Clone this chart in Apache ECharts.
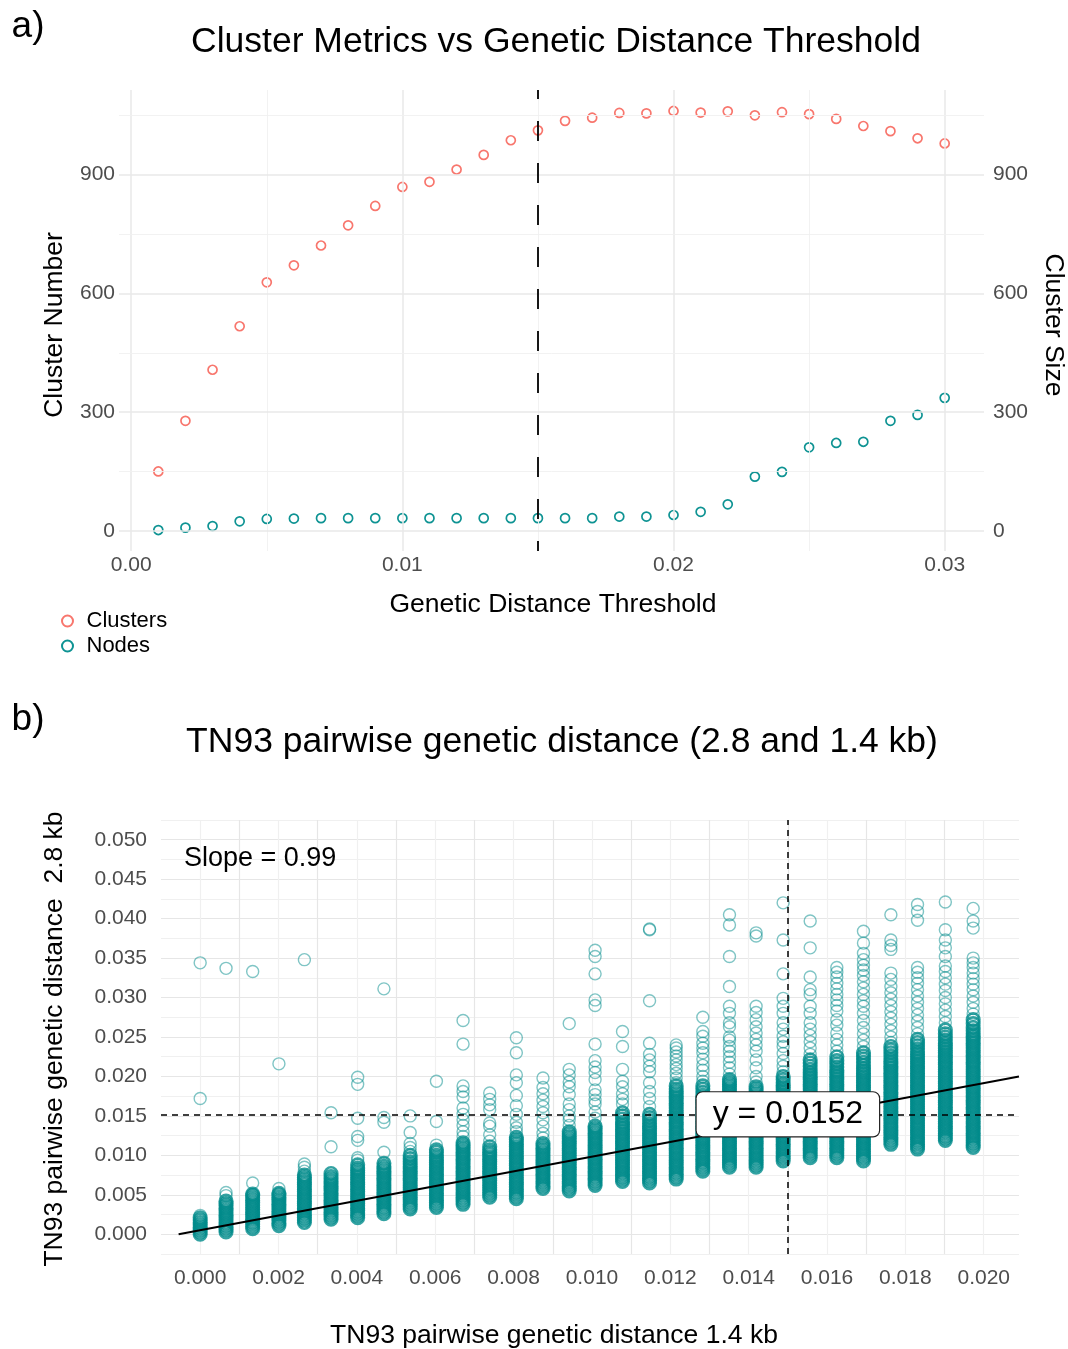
<!DOCTYPE html>
<html>
<head>
<meta charset="utf-8">
<script src="https://cdn.jsdelivr.net/npm/echarts@6/dist/echarts.min.js"></script>
<style>
  html, body { margin: 0; padding: 0; background: #fff; }
  #main { width: 1068px; height: 1349px; }
</style>
</head>
<body>
<div id="main"></div>
<script>
// panel a: cluster metrics by threshold
var thresholds = [0.001, 0.002, 0.003, 0.004, 0.005, 0.006, 0.007, 0.008, 0.009, 0.010,
                  0.011, 0.012, 0.013, 0.014, 0.015, 0.016, 0.017, 0.018, 0.019, 0.020,
                  0.021, 0.022, 0.023, 0.024, 0.025, 0.026, 0.027, 0.028, 0.029, 0.030];
var clusters = [150, 278, 407, 517, 628, 671, 721, 772, 821, 869,
                882, 913, 950, 987, 1012, 1036, 1044, 1056, 1055, 1061,
                1057, 1060, 1050, 1058, 1053, 1041, 1023, 1010, 992, 979];
var nodes = [2, 8, 12, 24, 30, 31, 32, 32, 32, 32,
             32, 32, 32, 32, 32, 32, 32, 36, 36, 40,
             48, 67, 137, 149, 211, 222, 225, 278, 293, 336];
var cutoffA = 0.015;

// panel b: pairwise distances, one column per 1.4 kb distance value
var pairX = [0, 0.00066, 0.00134, 0.00201, 0.00266, 0.00334, 0.00402, 0.00469, 0.00536, 0.00603,
             0.00671, 0.00739, 0.00807, 0.00875, 0.00942, 0.01008, 0.01078, 0.01147, 0.01215, 0.01283,
             0.01351, 0.01419, 0.01488, 0.01557, 0.01625, 0.01693, 0.01763, 0.01831, 0.01902, 0.01973];
// 2.8 kb distances in units of 1e-4: scattered pairs of each column
var pairSparse_e4 = [
  [344, 172, 24],
  [337, 53, 49],
  [333, 65],
  [216, 58],
  [348, 89, 85, 80],
  [154, 111],
  [199, 190, 147, 124, 119, 97, 94],
  [311, 148, 142, 104],
  [150, 129, 115, 110, 105],
  [194, 143, 113],
  [271, 241, 188, 181, 174, 160, 152, 145, 138, 130, 124],
  [179, 171, 164, 158, 141, 137, 126, 118],
  [249, 230, 202, 192, 176, 163, 152, 142, 135, 130],
  [198, 186, 178, 170, 162, 154, 145, 137, 128, 122],
  [267, 209, 202, 193, 187, 177, 165, 158, 150, 145, 138],
  [360, 352, 330, 297, 290, 241, 220, 212, 205, 196, 183, 177, 170, 165, 155, 147],
  [257, 238, 209, 194, 187, 178, 171, 165],
  [387, 386, 296, 242, 228, 221, 213, 206, 192, 181, 172, 162],
  [240, 236, 231, 226, 221, 215, 210, 204, 198, 192],
  [275, 257, 251, 242, 236, 230, 222, 214, 208, 200, 194],
  [405, 392, 352, 314, 289, 280, 268, 263, 250, 246, 238, 232, 225, 218, 211, 203],
  [382, 378, 289, 281, 272, 263, 255, 247, 240, 232, 221, 211, 200, 193],
  [420, 373, 330, 299, 289, 280, 268, 260, 251, 244, 238, 229, 220, 213, 206],
  [397, 363, 326, 310, 304, 289, 280, 268, 260, 252, 244, 236, 228],
  [338, 332, 326, 318, 311, 304, 297, 290, 283, 272, 265, 255, 247, 240, 232],
  [384, 369, 356, 348, 341, 335, 328, 320, 312, 304, 296, 289, 280, 271, 262, 254, 246, 238],
  [405, 373, 366, 361, 331, 323, 314, 306, 298, 290, 282, 274, 266, 258, 250, 243],
  [418, 409, 398, 338, 332, 325, 318, 310, 302, 294, 286, 278, 270, 262, 254],
  [421, 386, 373, 363, 352, 340, 333, 325, 317, 309, 300, 292, 284, 276, 268],
  [413, 397, 388, 350, 344, 338, 331, 324, 317, 310, 302, 294, 286, 279]
];
// 2.8 kb distances in units of 1e-4: crowded core of each column
var pairDense_e4 = [
  [0, 3, 6, 9, 12, 15, 18, 21],
  [3, 6, 9, 12, 15, 18, 21, 24, 27, 30, 33, 36, 39, 42],
  [7, 10, 13, 16, 19, 22, 25, 28, 31, 34, 37, 40, 43, 46, 49, 51],
  [11, 14, 17, 20, 23, 26, 29, 32, 35, 38, 41, 44, 47, 50, 52],
  [15, 18, 21, 24, 27, 30, 33, 36, 39, 42, 45, 48, 51, 54, 57, 60, 63, 66, 69, 72, 75],
  [19, 22, 25, 28, 31, 34, 37, 40, 43, 46, 49, 52, 55, 58, 61, 64, 67, 70, 73, 77],
  [21, 24, 27, 30, 33, 36, 39, 42, 45, 48, 51, 54, 57, 60, 63, 66, 69, 72, 75, 78, 81, 84, 88],
  [26, 29, 32, 35, 38, 41, 44, 47, 50, 53, 56, 59, 62, 65, 68, 71, 74, 77, 80, 83, 86, 90],
  [32, 35, 38, 41, 44, 47, 50, 53, 56, 59, 62, 65, 68, 71, 74, 77, 80, 83, 86, 89, 92, 96, 100],
  [34, 37, 40, 43, 46, 49, 52, 55, 58, 61, 64, 67, 70, 73, 76, 79, 82, 85, 88, 91, 94, 97, 100, 104, 107],
  [38, 41, 44, 47, 50, 53, 56, 59, 62, 65, 68, 71, 74, 77, 80, 83, 86, 89, 92, 95, 98, 101, 104, 107, 110, 113, 116],
  [47, 50, 53, 56, 59, 62, 65, 68, 71, 74, 77, 80, 83, 86, 89, 92, 95, 98, 101, 104, 107, 111],
  [45, 48, 51, 54, 57, 60, 63, 66, 69, 72, 75, 78, 81, 84, 87, 90, 93, 96, 99, 102, 105, 108, 111, 114, 117, 120, 123],
  [58, 61, 64, 67, 70, 73, 76, 79, 82, 85, 88, 91, 94, 97, 100, 103, 106, 109, 112, 115],
  [55, 58, 61, 64, 67, 70, 73, 76, 79, 82, 85, 88, 91, 94, 97, 100, 103, 106, 109, 112, 115, 118, 121, 124, 127, 130],
  [62, 65, 68, 71, 74, 77, 80, 83, 86, 89, 92, 95, 98, 101, 104, 107, 110, 113, 116, 119, 122, 125, 128, 131, 134, 137],
  [67, 70, 73, 76, 79, 82, 85, 88, 91, 94, 97, 100, 103, 106, 109, 112, 115, 118, 121, 124, 127, 130, 133, 136, 139, 142, 146, 150, 154],
  [65, 68, 71, 74, 77, 80, 83, 86, 89, 92, 95, 98, 101, 104, 107, 110, 113, 116, 119, 122, 125, 128, 131, 134, 137, 140, 144, 148, 152],
  [70, 73, 76, 79, 82, 85, 88, 91, 94, 97, 100, 103, 106, 109, 112, 115, 118, 121, 124, 127, 130, 133, 136, 139, 142, 145, 148, 151, 154, 157, 160, 163, 166, 169, 172, 175, 178, 181, 184, 188],
  [80, 83, 86, 89, 92, 95, 98, 101, 104, 107, 110, 113, 116, 119, 122, 125, 128, 131, 134, 137, 140, 143, 146, 149, 152, 155, 158, 161, 164, 167, 170, 173, 176, 180, 184, 188],
  [85, 88, 91, 94, 97, 100, 103, 106, 109, 112, 115, 118, 121, 124, 127, 130, 133, 136, 139, 142, 145, 148, 151, 154, 157, 160, 163, 166, 169, 172, 175, 178, 181, 184, 187, 190, 193, 196],
  [85, 88, 91, 94, 97, 100, 103, 106, 109, 112, 115, 118, 121, 124, 127, 130, 133, 136, 139, 142, 145, 148, 151, 154, 157, 160, 163, 166, 169, 172, 175, 178, 181, 184, 187],
  [93, 96, 99, 102, 105, 108, 111, 114, 117, 120, 123, 126, 129, 132, 135, 138, 141, 144, 147, 150, 153, 156, 159, 162, 165, 168, 171, 174, 177, 180, 183, 186, 189, 192, 196, 200],
  [97, 100, 103, 106, 109, 112, 115, 118, 121, 124, 127, 130, 133, 136, 139, 142, 145, 148, 151, 154, 157, 160, 163, 166, 169, 172, 175, 178, 181, 184, 187, 190, 193, 196, 199, 202, 205, 209, 213, 217, 221],
  [97, 100, 103, 106, 109, 112, 115, 118, 121, 124, 127, 130, 133, 136, 139, 142, 145, 148, 151, 154, 157, 160, 163, 166, 169, 172, 175, 178, 181, 184, 187, 190, 193, 196, 199, 202, 205, 208, 212, 216, 220, 225],
  [93, 96, 99, 102, 105, 108, 111, 114, 117, 120, 123, 126, 129, 132, 135, 138, 141, 144, 147, 150, 153, 156, 159, 162, 165, 168, 171, 174, 177, 180, 183, 186, 189, 192, 195, 198, 201, 204, 207, 210, 214, 218, 222, 226, 230],
  [114, 117, 120, 123, 126, 129, 132, 135, 138, 141, 144, 147, 150, 153, 156, 159, 162, 165, 168, 171, 174, 177, 180, 183, 186, 189, 192, 195, 198, 201, 204, 207, 210, 213, 216, 219, 222, 226, 230, 234, 238],
  [108, 111, 114, 117, 120, 123, 126, 129, 132, 135, 138, 141, 144, 147, 150, 153, 156, 159, 162, 165, 168, 171, 174, 177, 180, 183, 186, 189, 192, 195, 198, 201, 204, 207, 210, 213, 216, 219, 222, 225, 228, 231, 235, 239, 243, 247],
  [119, 122, 125, 128, 131, 134, 137, 140, 143, 146, 149, 152, 155, 158, 161, 164, 167, 170, 173, 176, 179, 182, 185, 188, 191, 194, 197, 200, 203, 206, 209, 212, 215, 218, 221, 224, 227, 230, 233, 236, 239, 242, 246, 250, 254, 259],
  [110, 113, 116, 119, 122, 125, 128, 131, 134, 137, 140, 143, 146, 149, 152, 155, 158, 161, 164, 167, 170, 173, 176, 179, 182, 185, 188, 191, 194, 197, 200, 203, 206, 209, 212, 215, 218, 221, 224, 227, 230, 233, 236, 239, 242, 245, 248, 251, 254, 258, 262, 267, 272]
];
var fitX = [-0.00055, 0.0209];
var fitY = [0.0000, 0.0200];
var cutoffX = 0.015;
var cutoffY = 0.0152;
var slopeText = 'Slope = 0.99';

(function () {
    var FONT = 'Liberation Sans';
    var myChart = echarts.init(document.getElementById('main'));

    var clusterData = thresholds.map(function (t, i) { return [t, clusters[i]]; });
    var nodeData = thresholds.map(function (t, i) { return [t, nodes[i]]; });
    function toPoints(cols) {
        var out = [];
        pairX.forEach(function (x, i) {
            cols[i].forEach(function (v) { out.push([x, v / 10000]); });
        });
        return out;
    }
    var sparseData = toPoints(pairSparse_e4);
    var denseData = toPoints(pairDense_e4);
    var fitData = fitX.map(function (x, i) { return [x, fitY[i]]; });

    // grid lines of panel a (ggplot minimal look)
    var MAJOR = { color: '#e8e8e8', width: 1.5, type: 'solid' };
    var MINOR = { color: '#f0f0f0', width: 0.9, type: 'solid' };
    var gridA = [];
    [0, 0.01, 0.02, 0.03].forEach(function (v) { gridA.push({ xAxis: v, lineStyle: MAJOR }); });
    [0.005, 0.015, 0.025].forEach(function (v) { gridA.push({ xAxis: v, lineStyle: MINOR }); });
    [0, 300, 600, 900].forEach(function (v) { gridA.push({ yAxis: v, lineStyle: MAJOR }); });
    [150, 450, 750, 1050].forEach(function (v) { gridA.push({ yAxis: v, lineStyle: MINOR }); });

    function txt(x, y, text, size, rot, align) {
        return {
            type: 'text', x: x, y: y, rotation: rot || 0, z: 10,
            style: { text: text, fontSize: size, fontFamily: FONT, fill: '#000',
                     align: align || 'center', verticalAlign: 'middle' }
        };
    }

    var tickLabel = { color: '#4d4d4d', fontSize: 21, fontFamily: FONT };

    var option = {
        animation: false,
        graphic: [
            txt(28, 27, 'a)', 37),
            txt(556, 42, 'Cluster Metrics vs Genetic Distance Threshold', 35.5),
            txt(55, 325, 'Cluster Number', 26.5, Math.PI / 2),
            txt(1053, 325, 'Cluster Size', 26.5, -Math.PI / 2),
            txt(553, 605, 'Genetic Distance Threshold', 26.5),
            txt(28, 720, 'b)', 37),
            txt(562, 742, 'TN93 pairwise genetic distance (2.8 and 1.4 kb)', 35.5),
            txt(55, 1039, 'TN93 pairwise genetic distance  2.8 kb', 26.5, Math.PI / 2),
            txt(554, 1336, 'TN93 pairwise genetic distance 1.4 kb', 26.5),
            txt(184, 859, slopeText, 27, 0, 'left')
        ],
        legend: {
            data: ['Clusters', 'Nodes'],
            orient: 'vertical',
            left: 56, top: 605,
            itemWidth: 28, itemHeight: 11, itemGap: 3,
            textStyle: { fontSize: 22, fontFamily: FONT, color: '#000' }
        },
        grid: [
            { left: 119, top: 90, width: 865, height: 461 },
            { left: 161, top: 820, width: 858, height: 434 }
        ],
        xAxis: [
            {
                gridIndex: 0, type: 'value', min: -0.00045, max: 0.03145,
                axisLine: { show: false }, axisTick: { show: false }, splitLine: { show: false },
                axisLabel: Object.assign({ customValues: [0, 0.01, 0.02, 0.03], margin: 4,
                    formatter: function (v) { return v.toFixed(2); } }, tickLabel)
            },
            {
                gridIndex: 1, type: 'value', min: -0.001, max: 0.0209, interval: 0.001,
                axisLine: { show: false }, axisTick: { show: false },
                splitLine: { showMinLine: false, showMaxLine: false,
                             lineStyle: { color: ['#f0f0f0', '#e6e6e6'], width: 1.2 } },
                axisLabel: Object.assign({ margin: 14, formatter: function (v) {
                    var k = Math.round(v / 0.002);
                    return (Math.abs(v - k * 0.002) < 1e-9 && k >= 0 && k <= 10) ? (k * 0.002).toFixed(3) : '';
                } }, tickLabel)
            }
        ],
        yAxis: [
            {
                gridIndex: 0, type: 'value', min: -51, max: 1114,
                axisLine: { show: false }, axisTick: { show: false }, splitLine: { show: false },
                axisLabel: Object.assign({ customValues: [0, 300, 600, 900], margin: 4 }, tickLabel)
            },
            {
                gridIndex: 0, type: 'value', min: -51, max: 1114, position: 'right',
                axisLine: { show: false }, axisTick: { show: false }, splitLine: { show: false },
                axisLabel: Object.assign({ customValues: [0, 300, 600, 900], margin: 9 }, tickLabel)
            },
            {
                gridIndex: 1, type: 'value', min: -0.0025, max: 0.0525, interval: 0.0025,
                axisLine: { show: false }, axisTick: { show: false },
                splitLine: { lineStyle: { color: ['#f0f0f0', '#e6e6e6'], width: 1.2 } },
                axisLabel: Object.assign({ margin: 14, formatter: function (v) {
                    var k = Math.round(v / 0.005);
                    return (Math.abs(v - k * 0.005) < 1e-9 && k >= 0 && k <= 10) ? (k * 0.005).toFixed(3) : '';
                } }, tickLabel)
            }
        ],
        series: [
            {
                name: 'gridA', type: 'scatter', xAxisIndex: 0, yAxisIndex: 0, data: [], z: 1, silent: true,
                markLine: { silent: true, symbol: 'none', precision: 6, label: { show: false },
                            animation: false, data: gridA }
            },
            {
                name: 'Clusters', type: 'scatter', xAxisIndex: 0, yAxisIndex: 0, z: 3,
                symbol: 'circle', symbolSize: 9, data: clusterData,
                itemStyle: { color: 'rgba(255,255,255,0)', borderColor: '#F8766D', borderWidth: 1.7, opacity: 1 }
            },
            {
                name: 'Nodes', type: 'scatter', xAxisIndex: 0, yAxisIndex: 0, z: 3,
                symbol: 'circle', symbolSize: 9, data: nodeData,
                itemStyle: { color: 'rgba(255,255,255,0)', borderColor: '#0E9393', borderWidth: 1.7, opacity: 1 }
            },
            {
                name: 'cutA', type: 'scatter', xAxisIndex: 0, yAxisIndex: 0, data: [], z: 5, silent: true,
                markLine: { silent: true, symbol: 'none', precision: 6, label: { show: false }, animation: false,
                    lineStyle: { color: '#000', width: 1.8, type: [20, 22], dashOffset: 10 },
                    data: [{ xAxis: cutoffA }] }
            },
            {
                name: 'pairsSparse', type: 'scatter', xAxisIndex: 1, yAxisIndex: 2, z: 2,
                large: false, progressive: 0, symbol: 'circle', symbolSize: 12, data: sparseData,
                itemStyle: { color: 'rgba(0,0,0,0)', borderColor: 'rgba(0,139,139,0.5)', borderWidth: 1.4, opacity: 1 }
            },
            {
                name: 'pairsDense', type: 'scatter', xAxisIndex: 1, yAxisIndex: 2, z: 2,
                large: false, progressive: 0, symbol: 'circle', symbolSize: 12.5, data: denseData,
                itemStyle: { color: 'rgba(0,0,0,0)', borderColor: 'rgba(0,139,139,0.8)', borderWidth: 2.6, opacity: 1 }
            },
            {
                name: 'fit', type: 'line', xAxisIndex: 1, yAxisIndex: 2, z: 4, data: fitData,
                symbol: 'none', silent: true, lineStyle: { color: '#000', width: 2 }
            },
            {
                name: 'cutB', type: 'scatter', xAxisIndex: 1, yAxisIndex: 2, data: [], z: 4, silent: true,
                markLine: { silent: true, symbol: 'none', precision: 6, label: { show: false }, animation: false,
                    lineStyle: { color: '#000', width: 1.5, type: [6, 5] },
                    data: [{ xAxis: cutoffX }, { yAxis: cutoffY }] }
            },
            {
                name: 'cutLabel', type: 'scatter', xAxisIndex: 1, yAxisIndex: 2, z: 6, silent: true,
                symbolSize: 0, data: [[cutoffX, cutoffY]], itemStyle: { opacity: 1 },
                label: {
                    show: true, position: 'inside', formatter: 'y = ' + cutoffY,
                    fontSize: 32, fontFamily: FONT, color: '#000', lineHeight: 32,
                    backgroundColor: '#fff', borderColor: '#222', borderWidth: 1.2, borderRadius: 6,
                    padding: [6, 16]
                }
            }
        ]
    };

    myChart.setOption(option);
})();
</script>
</body>
</html>
